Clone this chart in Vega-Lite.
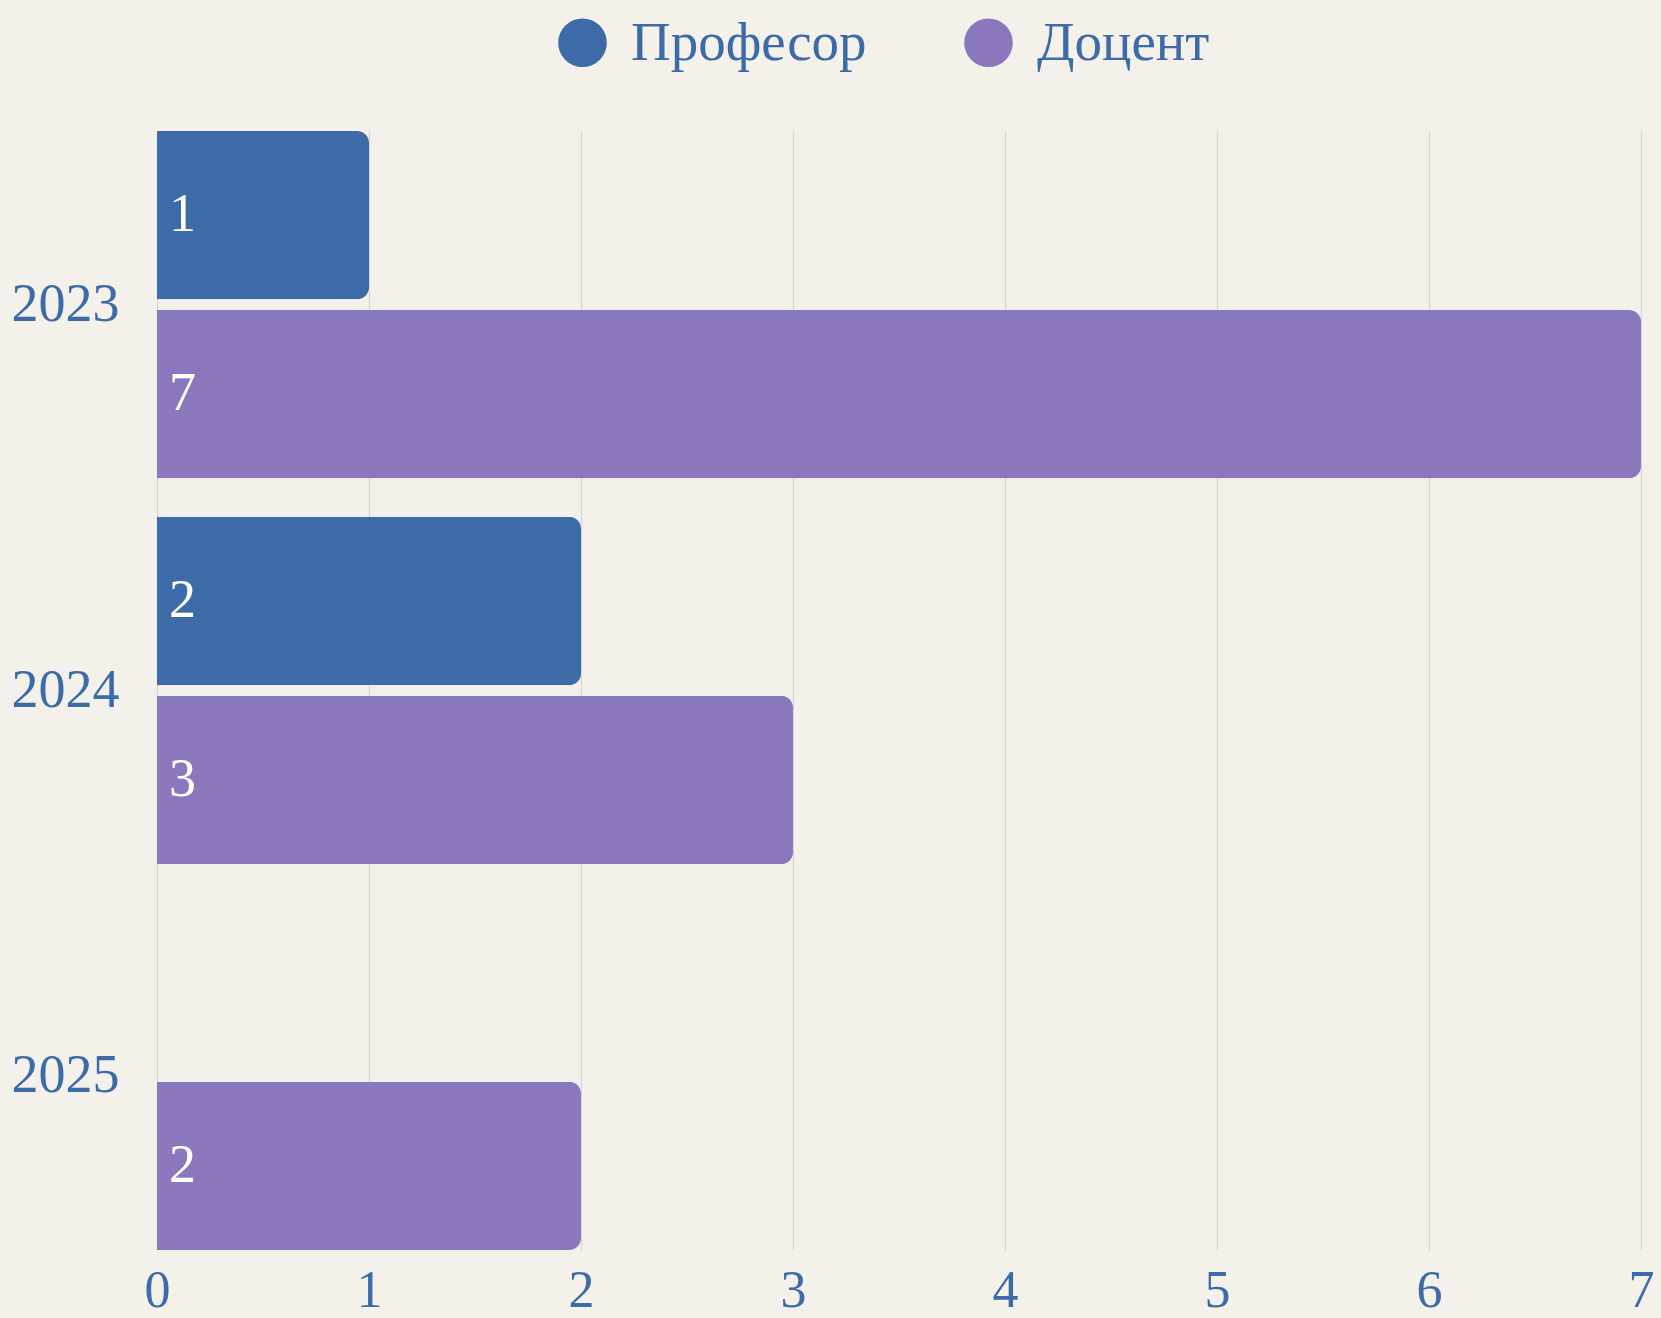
{
  "$schema": "https://vega.github.io/schema/vega-lite/v6.json",
  "width": 1484,
  "height": 1119,
  "autosize": {"type": "none"},
  "padding": {"left": 157, "top": 131, "right": 20, "bottom": 68},
  "background": "#f4f1ea",
  "config": {
    "view": {"stroke": null},
    "font": "Liberation Serif",
    "axis": {"labelFont": "Liberation Serif", "labelColor": "#3d6ba8", "ticks": false, "domain": false, "title": null},
    "legend": {"labelFont": "Liberation Serif"}
  },
  "data": {
    "values": [
      {"year": "2023", "role": "Професор", "value": 1},
      {"year": "2023", "role": "Доцент", "value": 7},
      {"year": "2024", "role": "Професор", "value": 2},
      {"year": "2024", "role": "Доцент", "value": 3},
      {"year": "2025", "role": "Доцент", "value": 2}
    ]
  },
  "encoding": {
    "y": {
      "field": "year", "type": "nominal",
      "scale": {"paddingInner": 0.1, "paddingOuter": 0},
      "axis": {"labelFontSize": 54, "labelPadding": 38, "grid": false}
    },
    "yOffset": {
      "field": "role", "type": "nominal",
      "scale": {"domain": ["Професор", "Доцент"], "paddingInner": 0.06, "paddingOuter": 0}
    }
  },
  "layer": [
    {
      "mark": {"type": "bar", "cornerRadiusEnd": 12},
      "encoding": {
        "x": {
          "field": "value", "type": "quantitative",
          "scale": {"domain": [0, 7], "nice": false},
          "axis": {"values": [0,1,2,3,4,5,6,7], "format": "d", "grid": true, "gridColor": "#d3d5d6", "gridWidth": 1.2, "labelFontSize": 52, "labelPadding": 15, "labelFlush": false}
        },
        "color": {
          "field": "role", "type": "nominal",
          "scale": {"domain": ["Професор", "Доцент"], "range": ["#3d6ba8", "#8b77bb"]},
          "legend": {
            "orient": "none", "legendX": 398, "legendY": -116,
            "direction": "horizontal", "title": null,
            "symbolType": "circle", "symbolSize": 2370, "symbolOpacity": 1,
            "labelFontSize": 55, "labelColor": "#3d6ba8", "labelOffset": 21, "labelLimit": 0,
            "columnPadding": 94
          }
        }
      }
    },
    {
      "mark": {"type": "text", "align": "left", "baseline": "middle", "dx": 12, "color": "white", "fontSize": 54, "font": "Liberation Serif"},
      "encoding": {
        "x": {"datum": 0, "type": "quantitative"},
        "text": {"field": "value", "type": "quantitative"}
      }
    }
  ]
}
